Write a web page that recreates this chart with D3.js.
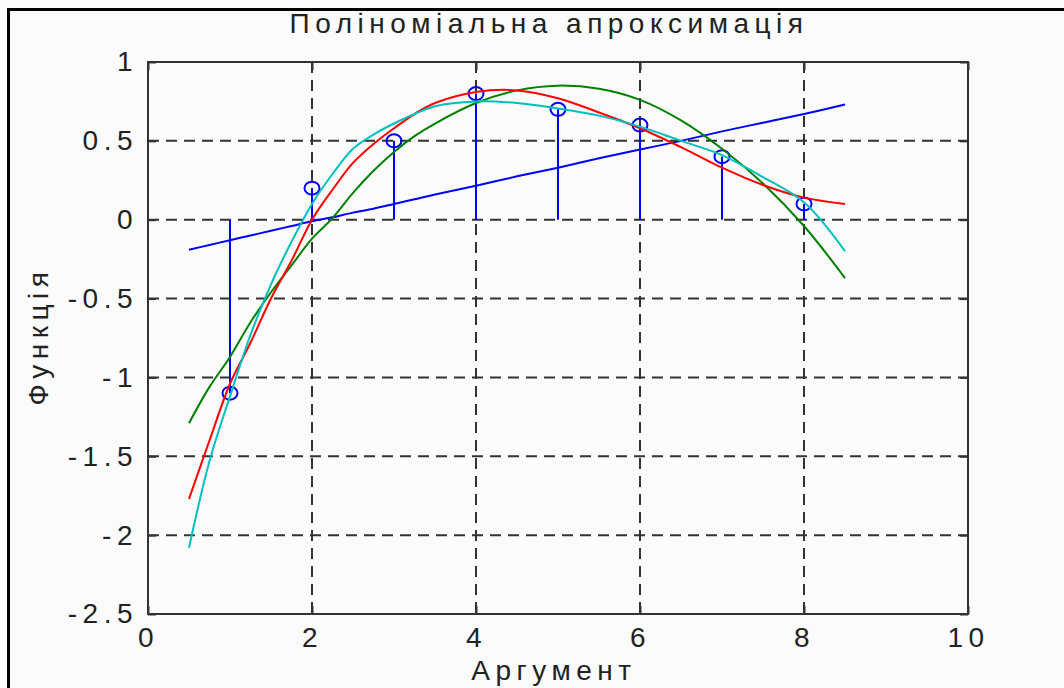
<!DOCTYPE html>
<html>
<head>
<meta charset="utf-8">
<script src="https://cdn.jsdelivr.net/npm/d3@7"></script>
<style>
  body { margin: 0; background: #fbfbfb; }
  svg { display: block; }
  text { font-family: "Liberation Sans", Arial, sans-serif; fill: #222; letter-spacing: 5.5px; }
</style>
</head>
<body>
<div id="chart"></div>
<script>
// measured points (stem plot)
var pointX = [1, 2, 3, 4, 5, 6, 7, 8];
var pointY = [-1.1, 0.2, 0.5, 0.8, 0.7, 0.6, 0.4, 0.1];

// approximating curves
var curveX = [0.5, 0.75, 1, 1.25, 1.5, 1.75, 2, 2.25, 2.5, 2.75, 3, 3.25, 3.5, 4, 4.5, 5, 5.5, 6, 6.5, 7, 7.5, 8, 8.5];
var fit1 = [-0.19, -0.16, -0.13, -0.10, -0.07, -0.04, -0.01, 0.015, 0.045, 0.07, 0.10, 0.13, 0.16, 0.215, 0.275, 0.33, 0.39, 0.445, 0.50, 0.56, 0.615, 0.67, 0.73];
var fit2 = [-1.29, -1.06, -0.87, -0.65, -0.46, -0.29, -0.12, 0.01, 0.17, 0.31, 0.43, 0.53, 0.61, 0.74, 0.82, 0.85, 0.83, 0.76, 0.63, 0.45, 0.23, -0.04, -0.37];
var fit3 = [-1.77, -1.40, -1.04, -0.78, -0.50, -0.26, 0.0, 0.19, 0.36, 0.48, 0.58, 0.67, 0.74, 0.81, 0.82, 0.77, 0.68, 0.58, 0.46, 0.33, 0.22, 0.14, 0.10];
var fit4 = [-2.08, -1.53, -1.12, -0.73, -0.41, -0.14, 0.10, 0.29, 0.45, 0.54, 0.61, 0.67, 0.72, 0.75, 0.74, 0.705, 0.66, 0.59, 0.50, 0.41, 0.27, 0.11, -0.20];

var xTicks = [0, 2, 4, 6, 8, 10];
var yTicks = [1, 0.5, 0, -0.5, -1, -1.5, -2, -2.5];

var titleText = "Поліноміальна апроксимація";
var xLabelText = "Аргумент";
var yLabelText = "Функція";

var svgWidth = 1064;
var svgHeight = 688;
var margin = {top: 62, right: 96, bottom: 74, left: 148};
var width = svgWidth - margin.left - margin.right;
var height = svgHeight - margin.top - margin.bottom;

var svg = d3.select("#chart")
  .append("svg")
  .attr("width", svgWidth)
  .attr("height", svgHeight);

// outer figure border
svg.append("rect")
  .attr("x", 8.5).attr("y", 9.5)
  .attr("width", 1200).attr("height", 800)
  .attr("fill", "none")
  .attr("stroke", "#000")
  .attr("stroke-width", 3);

var chart = svg.append("g")
  .attr("transform", `translate(${margin.left}, ${margin.top})`);

var xScale = d3.scaleLinear().domain([0, 10]).range([0, width]);
var yScale = d3.scaleLinear().domain([-2.5, 1]).range([height, 0]);

// dashed grid
chart.append("g").selectAll("line")
  .data(xTicks.slice(1, -1))
  .enter().append("line")
  .attr("x1", d => xScale(d)).attr("x2", d => xScale(d))
  .attr("y1", 0).attr("y2", height)
  .attr("stroke", "#333").attr("stroke-width", 2)
  .attr("stroke-dasharray", "11,7");

chart.append("g").selectAll("line")
  .data(yTicks.slice(1, -1))
  .enter().append("line")
  .attr("x1", 0).attr("x2", width)
  .attr("y1", d => yScale(d)).attr("y2", d => yScale(d))
  .attr("stroke", "#333").attr("stroke-width", 2)
  .attr("stroke-dasharray", "11,7");

// axes with inward ticks
var fmt = d => String(d);
var bottomAxis = d3.axisBottom(xScale).tickValues(xTicks).tickFormat(fmt).tickSizeInner(-8).tickSizeOuter(0).tickPadding(13);
var leftAxis = d3.axisLeft(yScale).tickValues(yTicks).tickFormat(fmt).tickSizeInner(-8).tickSizeOuter(0).tickPadding(10);
var topAxis = d3.axisTop(xScale).tickValues(xTicks).tickFormat("").tickSizeInner(-8).tickSizeOuter(0);
var rightAxis = d3.axisRight(yScale).tickValues(yTicks).tickFormat("").tickSizeInner(-8).tickSizeOuter(0);

var xAxis = chart.append("g").attr("transform", `translate(0, ${height})`).call(bottomAxis);
var yAxis = chart.append("g").call(leftAxis);
chart.append("g").call(topAxis);
chart.append("g").attr("transform", `translate(${width}, 0)`).call(rightAxis);

chart.selectAll(".domain").remove();
chart.selectAll(".tick line").attr("stroke", "#333").attr("stroke-width", 2);
chart.selectAll(".tick text")
  .attr("font-size", 28)
  .attr("fill", "#222")
  .attr("font-family", "Liberation Sans, Arial, sans-serif");

// frame
chart.append("rect")
  .attr("x", 0).attr("y", 0)
  .attr("width", width).attr("height", height)
  .attr("fill", "none")
  .attr("stroke", "#333")
  .attr("stroke-width", 2);

// stems and markers
chart.append("g").selectAll("line")
  .data(pointX)
  .enter().append("line")
  .attr("x1", d => xScale(d)).attr("x2", d => xScale(d))
  .attr("y1", yScale(0))
  .attr("y2", (d, i) => yScale(pointY[i]))
  .attr("stroke", "#0000ff").attr("stroke-width", 2);

chart.append("g").selectAll("ellipse")
  .data(pointX)
  .enter().append("ellipse")
  .attr("cx", d => xScale(d))
  .attr("cy", (d, i) => yScale(pointY[i]))
  .attr("rx", 7.5).attr("ry", 6.5)
  .attr("fill", "none")
  .attr("stroke", "#0000ff").attr("stroke-width", 2);

// fitted curves
var createLine = d3.line()
  .x((d, i) => xScale(curveX[i]))
  .y(d => yScale(d))
  .curve(d3.curveCatmullRom);

var fits = [fit1, fit2, fit3, fit4];
var colors = ["#0000ff", "#008000", "#ff0000", "#00bfbf"];

fits.forEach(function(f, k) {
  chart.append("path")
    .attr("d", createLine(f))
    .attr("fill", "none")
    .attr("stroke", colors[k])
    .attr("stroke-width", 2);
});

// title and axis labels
svg.append("text")
  .attr("x", 549).attr("y", 33)
  .attr("text-anchor", "middle")
  .attr("font-size", 28)
  .text(titleText);

svg.append("text")
  .attr("x", 554).attr("y", 680)
  .attr("text-anchor", "middle")
  .attr("font-size", 28)
  .text(xLabelText);

svg.append("text")
  .attr("transform", "translate(48, 336) rotate(-90)")
  .attr("text-anchor", "middle")
  .attr("font-size", 28)
  .text(yLabelText);
</script>
</body>
</html>
